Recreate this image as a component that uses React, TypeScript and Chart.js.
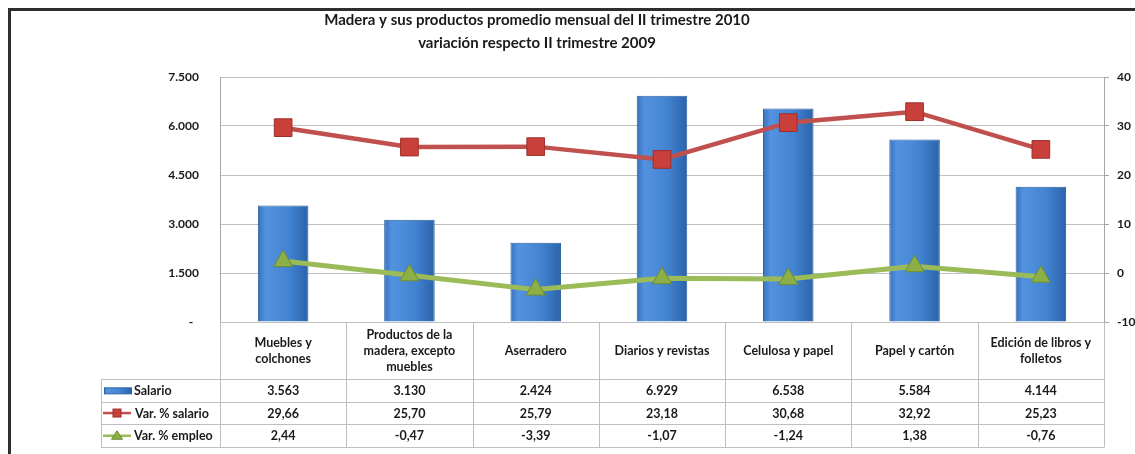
import { useEffect, useRef } from 'react';
import { Chart, registerables } from 'chart.js';

Chart.register(...registerables);

const titleLines = [
  'Madera y sus productos promedio mensual del II trimestre 2010',
  'variación respecto II trimestre 2009',
];

const categories: string[][] = [
  ['Muebles y', 'colchones'],
  ['Productos de la', 'madera, excepto', 'muebles'],
  ['Aserradero'],
  ['Diarios y revistas'],
  ['Celulosa y papel'],
  ['Papel y cartón'],
  ['Edición de libros y', 'folletos'],
];

const seriesNames = ['Salario', 'Var. % salario', 'Var. % empleo'];

const salario = [3563, 3130, 2424, 6929, 6538, 5584, 4144];
const varSalario = [29.66, 25.7, 25.79, 23.18, 30.68, 32.92, 25.23];
const varEmpleo = [2.44, -0.47, -3.39, -1.07, -1.24, 1.38, -0.76];

const leftTicks = [0, 1500, 3000, 4500, 6000, 7500];
const rightTicks = [-10, 0, 10, 20, 30, 40];

const FONT = 'Lato, "Liberation Sans", sans-serif';
const TEXT = '#1A1A1A';
const GRID = '#BFBFBF';
const RED = '#C0504D';
const GREEN = '#9BBB59';

const fmtThousands = (v: number) =>
  String(Math.round(v)).replace(/\B(?=(\d{3})+(?!\d))/g, '.');
const fmtPct = (v: number) => v.toFixed(2).replace('.', ',');

function barGradient(ctx: CanvasRenderingContext2D, x0: number, x1: number) {
  if (!isFinite(x0) || !isFinite(x1) || x1 <= x0) return '#4485D2';
  const g = ctx.createLinearGradient(x0, 0, x1, 0);
  g.addColorStop(0, '#3572C0');
  g.addColorStop(0.15, '#5392DE');
  g.addColorStop(0.6, '#4384D2');
  g.addColorStop(1, '#2B62AA');
  return g;
}

const framePlugin = {
  id: 'frame',
  beforeDraw(chart: any) {
    const { ctx, width, height } = chart;
    ctx.save();
    ctx.fillStyle = '#FFFFFF';
    ctx.fillRect(0, 0, width, height);
    ctx.restore();
  },
  afterDraw(chart: any) {
    const { ctx, width, height } = chart;
    ctx.save();
    ctx.strokeStyle = '#2E2E2E';
    ctx.lineWidth = 3;
    ctx.strokeRect(9.5, 9.5, width + 20, height + 20);
    ctx.fillStyle = TEXT;
    ctx.font = `bold 15px ${FONT}`;
    ctx.textAlign = 'center';
    ctx.textBaseline = 'alphabetic';
    const cx = 537;
    ctx.fillText(titleLines[0], cx, 25);
    ctx.fillText(titleLines[1], cx, 48);
    ctx.restore();
  },
};

const tablePlugin = {
  id: 'dataTable',
  afterDraw(chart: any) {
    const { ctx, chartArea: ca, scales } = chart;
    const xs = scales.x;
    const n = categories.length;
    const colW = (ca.right - ca.left) / n;
    const top = ca.bottom;
    const headerBottom = top + 57;
    const rowH = 22.7;
    const rowYs = [0, 1, 2, 3].map((k) => headerBottom + k * rowH);
    const tableLeft = 101;

    ctx.save();
    ctx.strokeStyle = GRID;
    ctx.lineWidth = 1;
    ctx.beginPath();
    rowYs.forEach((y) => {
      const yy = Math.round(y) + 0.5;
      ctx.moveTo(tableLeft, yy);
      ctx.lineTo(ca.right, yy);
    });
    for (let i = 0; i <= n; i++) {
      const x = Math.round(ca.left + i * colW) + 0.5;
      ctx.moveTo(x, top);
      ctx.lineTo(x, Math.round(rowYs[3]) + 0.5);
    }
    ctx.moveTo(tableLeft + 0.5, Math.round(rowYs[0]) + 0.5);
    ctx.lineTo(tableLeft + 0.5, Math.round(rowYs[3]) + 0.5);
    ctx.stroke();

    ctx.fillStyle = TEXT;
    ctx.font = `bold 12.5px ${FONT}`;
    ctx.textAlign = 'center';
    ctx.textBaseline = 'middle';
    const hc = (top + headerBottom) / 2;
    categories.forEach((lines, i) => {
      const cx = xs.getPixelForValue(i);
      lines.forEach((t, k) => {
        ctx.fillText(t, cx, hc + (k - (lines.length - 1) / 2) * 16);
      });
    });

    const rows = [salario.map(fmtThousands), varSalario.map(fmtPct), varEmpleo.map(fmtPct)];
    rows.forEach((vals, r) => {
      const cy = (rowYs[r] + rowYs[r + 1]) / 2;
      vals.forEach((t, i) => ctx.fillText(t, xs.getPixelForValue(i), cy + 0.5));
    });

    const keyL = 103;
    const keyR = 131;
    const keyC = 117;
    ctx.textAlign = 'left';
    seriesNames.forEach((name, r) => {
      const cy = (rowYs[r] + rowYs[r + 1]) / 2;
      if (r === 0) {
        ctx.fillStyle = barGradient(ctx, keyL, keyR);
        ctx.fillRect(keyL + 1, cy - 2.5, keyR - keyL, 6);
        ctx.strokeStyle = '#2D62A6';
        ctx.lineWidth = 1;
        ctx.strokeRect(keyL + 1.5, cy - 2.5, keyR - keyL - 1, 6);
      } else if (r === 1) {
        ctx.strokeStyle = RED;
        ctx.lineWidth = 2.5;
        ctx.beginPath();
        ctx.moveTo(keyL, cy);
        ctx.lineTo(keyR, cy);
        ctx.stroke();
        ctx.fillStyle = '#C9403B';
        ctx.fillRect(keyC - 4, cy - 4, 8, 8);
        ctx.lineWidth = 1;
        ctx.strokeStyle = '#9E2E2A';
        ctx.strokeRect(keyC - 4, cy - 4, 8, 8);
      } else {
        ctx.strokeStyle = GREEN;
        ctx.lineWidth = 2.5;
        ctx.beginPath();
        ctx.moveTo(keyL, cy);
        ctx.lineTo(keyR, cy);
        ctx.stroke();
        ctx.fillStyle = '#8DB046';
        ctx.beginPath();
        ctx.moveTo(keyC, cy - 5);
        ctx.lineTo(keyC + 5.5, cy + 3.5);
        ctx.lineTo(keyC - 5.5, cy + 3.5);
        ctx.closePath();
        ctx.fill();
        ctx.lineWidth = 1;
        ctx.strokeStyle = '#6E8C35';
        ctx.stroke();
      }
      ctx.fillStyle = TEXT;
      ctx.fillText(name, r === 1 ? 135 : 134, cy + 0.5);
    });
    ctx.restore();
  },
};

export default function App() {
  const ref = useRef<HTMLCanvasElement | null>(null);

  useEffect(() => {
    const canvas = ref.current;
    if (!canvas) return;
    const chart = new Chart(canvas, {
      type: 'bar',
      data: {
        labels: categories.map((c) => c.join(' ')),
        datasets: [
          {
            type: 'bar',
            label: seriesNames[0],
            data: salario,
            yAxisID: 'y',
            backgroundColor: (c: any) => {
              const ch = c.chart;
              const xs = ch.scales && ch.scales.x;
              if (!xs || c.dataIndex === undefined) return '#4485D2';
              const cx = xs.getPixelForValue(c.dataIndex);
              const half = ((xs.width / categories.length) * 0.4) / 2;
              return barGradient(ch.ctx, cx - half, cx + half);
            },
            borderColor: '#2A5C9E',
            borderWidth: 1,
            barPercentage: 0.4,
            categoryPercentage: 1,
            order: 3,
          } as any,
          {
            type: 'line',
            label: seriesNames[1],
            data: varSalario,
            yAxisID: 'y1',
            borderColor: RED,
            borderWidth: 4.5,
            pointStyle: 'rect',
            pointRadius: 12.5,
            pointBackgroundColor: '#C9403B',
            pointBorderColor: '#9E2E2A',
            pointBorderWidth: 1,
            tension: 0,
            order: 2,
          } as any,
          {
            type: 'line',
            label: seriesNames[2],
            data: varEmpleo,
            yAxisID: 'y1',
            borderColor: GREEN,
            borderWidth: 5,
            pointStyle: 'triangle',
            pointRadius: 11,
            pointBackgroundColor: '#8DB046',
            pointBorderColor: '#6E8C35',
            pointBorderWidth: 1,
            tension: 0,
            order: 1,
          } as any,
        ],
      },
      options: {
        responsive: false,
        animation: false,
        layout: { padding: { left: 0, right: 0, top: 77, bottom: 132 } },
        plugins: {
          legend: { display: false },
          tooltip: { enabled: false },
          title: { display: false },
        },
        scales: {
          x: { display: false, offset: true, grid: { display: false } },
          y: {
            position: 'left',
            min: leftTicks[0],
            max: leftTicks[leftTicks.length - 1],
            afterBuildTicks: (s: any) => {
              s.ticks = leftTicks.map((v) => ({ value: v }));
            },
            ticks: {
              callback: (v: any) => (Number(v) === 0 ? '-  ' : fmtThousands(Number(v))),
              font: { family: FONT, size: 12, weight: 'bold' },
              color: TEXT,
              padding: 21,
            },
            grid: { color: GRID, drawTicks: false },
            border: { display: true, color: '#A6A6A6' },
            afterFit: (s: any) => {
              s.width = 220;
            },
          },
          y1: {
            position: 'right',
            min: rightTicks[0],
            max: rightTicks[rightTicks.length - 1],
            afterBuildTicks: (s: any) => {
              s.ticks = rightTicks.map((v) => ({ value: v }));
            },
            ticks: {
              callback: (v: any) => String(v),
              font: { family: FONT, size: 12, weight: 'bold' },
              color: TEXT,
              padding: 8,
            },
            grid: { drawOnChartArea: false, color: '#A6A6A6', tickLength: 5 },
            border: { display: true, color: '#A6A6A6' },
            afterFit: (s: any) => {
              s.width = 31;
            },
          },
        },
      } as any,
      plugins: [framePlugin, tablePlugin],
    });
    return () => chart.destroy();
  }, []);

  return (
    <div style={{ position: 'absolute', left: 0, top: 0, width: 1135, height: 454 }}>
      <canvas ref={ref} width={1135} height={454} style={{ display: 'block', width: 1135, height: 454 }} />
    </div>
  );
}
